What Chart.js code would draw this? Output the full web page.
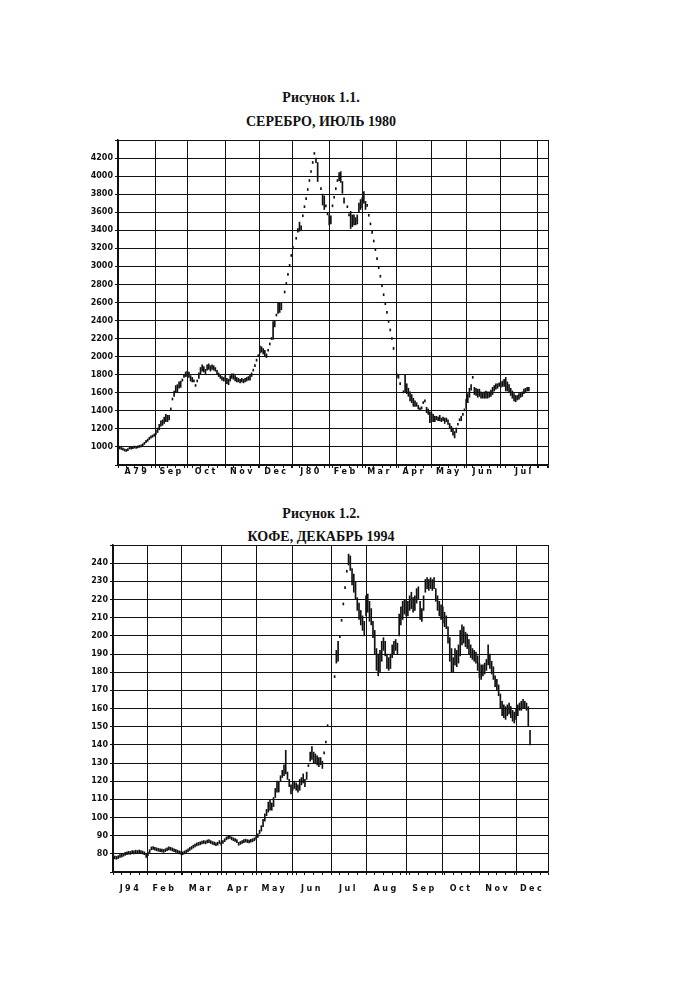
<!DOCTYPE html>
<html>
<head>
<meta charset="utf-8">
<title>Рисунок 1.1 / 1.2</title>
<script src="https://cdn.jsdelivr.net/npm/chart.js"></script>
<style>
  body { margin: 0; background: #fff; width: 694px; height: 1000px; position: relative; overflow: hidden; }
  .cap { position: absolute; left: 0; width: 642px; text-align: center; font-family: "Liberation Serif", serif; font-weight: bold; font-size: 14px; line-height: 16px; color: #111; }
  .box { position: absolute; left: 0; width: 560px; height: 360px; }
</style>
</head>
<body>
<div class="cap" style="top:90px">Рисунок 1.1.</div>
<div class="cap" style="top:114px">СЕРЕБРО, ИЮЛЬ 1980</div>
<div class="box" style="top:130px"><canvas id="silverChart"></canvas></div>

<div class="cap" style="top:506px">Рисунок 1.2.</div>
<div class="cap" style="top:529px">КОФЕ, ДЕКАБРЬ 1994</div>
<div class="box" style="top:535px"><canvas id="coffeeChart"></canvas></div>

<script>
// ---- silver, July 1980 contract: one bar per trading day (low / high) ----
const silverMonths = ["A79", "Sep", "Oct", "Nov", "Dec", "J80", "Feb", "Mar", "Apr", "May", "Jun", "Jul"];
// first trading day of each month, the last one is 1 Aug 1980
const silverMonthStarts = [0, 23, 42, 65, 86, 106, 128, 148, 169, 190, 211, 232, 254];
const silverLow = [
  980, 978, 972, 965, 955, 950, 960, 978, 975, 980, 988, 985, 990, 995, 1000, 1012, 1028, 1048, 1062, 1082, 1098, 1108, 1118,
  1140, 1160, 1190, 1230, 1240, 1260, 1280, 1280, 1300, 1410, 1520, 1560, 1600, 1610, 1650, 1660, 1730, 1770, 1780,
  1780, 1770, 1730, 1720, 1720, 1670, 1720, 1760, 1800, 1840, 1830, 1800, 1850, 1860, 1840, 1860, 1850, 1840, 1810, 1780, 1760, 1740, 1730,
  1730, 1700, 1690, 1730, 1760, 1750, 1730, 1720, 1720, 1710, 1720, 1710, 1720, 1730, 1740, 1740, 1780, 1840, 1890, 1950, 2000,
  2040, 2050, 2030, 2010, 1990, 2060, 2130, 2190, 2190, 2330, 2450, 2480, 2490, 2520, null, 2705, 2800, 2900, 3000, 3110,
  3200, null, 3300, 3380, 3390, 3400, 3550, 3650, 3740, 3840, 3940, 4040, 4140, 4240, 4150, 3940, null, 3850, 3680, 3630, 3660, 3570,
  3460, 3470, 3660, 3755, 3850, 3940, 3950, 3930, 3810, 3700, null, 3650, 3560, 3420, 3440, 3460, 3460, 3470, 3600, 3630,
  3650, 3700, 3630, 3665, 3555, 3460, 3365, 3270, 3175, 3075, 2975, 2880, 2775, 2675, 2575, 2480, 2380, 2285, 2190, 2080, null,
  1770, 1760, 1690, null, 1600, 1600, 1590, 1560, 1510, 1490, 1450, 1450, 1450, 1420, 1410, 1420, 1480, 1500, 1380, 1360, 1270,
  1280, 1280, 1280, 1300, 1290, 1290, 1280, 1290, 1260, 1280, 1250, 1210, 1170, 1130, 1100, 1160, 1240, 1290, 1290, 1350, 1400,
  1430, 1490, 1550, 1630, 1760, 1580, 1570, 1550, 1560, 1540, 1540, 1540, 1540, 1540, 1550, 1560, 1580, 1620, 1640, 1650, 1670,
  1660, 1670, 1670, 1620, 1620, 1600, 1570, 1540, 1510, 1500, 1520, 1530, 1550, 1560, 1590, 1610, 1620, 1620
];
const silverHigh = [
  1010, 1000, 995, 985, 975, 970, 982, 1000, 995, 1000, 1010, 1005, 1010, 1015, 1020, 1035, 1052, 1072, 1088, 1108, 1122, 1132, 1145,
  1180, 1210, 1250, 1290, 1300, 1330, 1360, 1350, 1350, 1410, 1520, 1620, 1680, 1690, 1720, 1730, 1730, 1770, 1830,
  1840, 1830, 1790, 1770, 1720, 1670, 1720, 1820, 1880, 1910, 1890, 1860, 1910, 1920, 1900, 1910, 1900, 1880, 1850, 1820, 1800, 1780, 1770,
  1790, 1760, 1750, 1790, 1810, 1810, 1790, 1770, 1760, 1750, 1760, 1750, 1760, 1770, 1780, 1800, 1820, 1840, 1890, 1950, 2000,
  2120, 2110, 2090, 2070, 2030, 2060, 2130, 2190, 2390, 2400, 2450, 2590, 2600, 2600, null, 2705, 2800, 2900, 3000, 3110,
  3200, null, 3300, 3420, 3490, 3450, 3550, 3650, 3740, 3840, 3940, 4040, 4140, 4240, 4200, 4150, null, 3850, 3800, 3780, 3660, 3570,
  3570, 3560, 3660, 3755, 3850, 3940, 4040, 4050, 3940, 3760, null, 3650, 3560, 3610, 3570, 3570, 3540, 3570, 3700, 3740,
  3760, 3830, 3720, 3665, 3555, 3460, 3365, 3270, 3175, 3075, 2975, 2880, 2775, 2675, 2575, 2480, 2380, 2285, 2190, 2080, null,
  1810, 1800, 1690, null, 1600, 1800, 1700, 1650, 1610, 1580, 1540, 1510, 1490, 1460, 1410, 1445, 1480, 1500, 1440, 1420, 1390,
  1380, 1360, 1340, 1340, 1330, 1350, 1320, 1330, 1320, 1320, 1300, 1260, 1230, 1210, 1170, 1210, 1240, 1290, 1340, 1350, 1400,
  1530, 1590, 1650, 1690, 1760, 1660, 1650, 1640, 1640, 1610, 1600, 1610, 1620, 1610, 1610, 1630, 1660, 1680, 1700, 1700, 1710,
  1720, 1730, 1750, 1770, 1720, 1690, 1650, 1620, 1590, 1570, 1570, 1590, 1600, 1610, 1640, 1650, 1660, 1660
];

// ---- coffee, December 1994 contract ----
const coffeeMonths = ["J94", "Feb", "Mar", "Apr", "May", "Jun", "Jul", "Aug", "Sep", "Oct", "Nov", "Dec"];
const coffeeMonthStarts = [0, 20, 39, 62, 82, 103, 125, 145, 168, 189, 210, 231];
const coffeeLow = [
  77.7, 77.2, 77, 77.4, 78, 78.2, 78.7, 79.2, 79.5, 79.8, 79.7, 80.2, 80, 80.4, 80.2, 80.5, 80.2, 79.9, 79.5, 78,
  79, 80.7, 82.2, 82.4, 82, 81.7, 81.4, 81.2, 81, 80.8, 81.2, 81.7, 82.2, 82, 81.6, 81.2, 80.8, 80.4, 80,
  79.7, 79.5, 80, 80.5, 81.2, 81.9, 82.5, 83.2, 83.8, 84.4, 84.7, 85, 85.4, 85.7, 85.5, 86, 86.2, 85.7, 85.2, 84.9, 84.5, 84.8, 85.7,
  84.7, 85.7, 86.7, 87.7, 88.2, 88.5, 87.7, 87.2, 86.8, 86.2, 84.7, 85.2, 85.7, 86.2, 86.5, 86.2, 86, 86.4, 86.7, 87.2,
  88, 89, 91, 92.5, 95, 98, 101, 103, 104, 104, 106, 111, 114, 114, 120, 122, 123, 124, 121, 117, 113,
  115, 116, 115, 114, 115, 118, 119, 117, 121, 128, 131, 132, 130, 130, 129, 128, 129, 127, 135, 141, 150, null,
  null, null, 177, 185, 186, 199, 208, 217, 226, 235, 239, 236, 228, 224, 220, 214, 209, 206, 203, 200,
  211, 213, 208, 206, 199, 190, 181, 178, 180, 186, 192, 189, 182, 181, 182, 188, 190, 192, 190, 200, 206, 209, 212,
  211, 211, 214, 215, 213, 214, 218, 220, 209, 208, 214, 224, 226, 225, 226, 225, 226, 219, 214, 211, 209,
  207, 205, 204, 196, 186, 180, 180, 184, 183, 185, 189, 195, 196, 194, 193, 190, 188, 187, 186, 185, 181,
  177, 176, 178, 179, 181, 184, 182, 179, 176, 172, 170, 167, 160, 156, 155, 154, 156, 157, 155, 153, 152,
  154, 156, 159, 159, 160, 160, 159, 150, 140
];
const coffeeHigh = [
  79.3, 78.8, 78.6, 79, 79.6, 79.8, 80.3, 80.8, 81.1, 81.4, 81.3, 81.8, 81.6, 82, 81.8, 82.1, 81.8, 81.5, 81.1, 80,
  81, 82.3, 83.8, 84, 83.6, 83.3, 83, 82.8, 82.6, 82.4, 82.8, 83.3, 83.8, 83.6, 83.2, 82.8, 82.4, 82, 81.6,
  81.3, 81.1, 81.6, 82.1, 82.8, 83.5, 84.1, 84.8, 85.4, 86, 86.3, 86.6, 87, 87.3, 87.1, 87.6, 87.8, 87.3, 86.8, 86.5, 86.1, 86.4, 87.3,
  86.3, 87.3, 88.3, 89.3, 89.8, 90.1, 89.3, 88.8, 88.4, 87.8, 86.3, 86.8, 87.3, 87.8, 88.1, 87.8, 87.6, 88, 88.3, 88.8,
  89.5, 91, 93, 95.5, 99, 102, 104.5, 108.5, 110, 108, 111, 116, 120, 119.5, 123, 126, 129, 137, 125, 121, 118,
  119.5, 120, 119, 118, 121, 122, 124, 121, 125, 128, 136, 139, 136, 135, 134, 133, 133, 131, 135, 141, 150, null,
  null, null, 177, 192, 197, 199, 208, 217, 226, 235, 245, 244, 237, 234, 230, 221, 218, 214, 211, 208,
  222, 223, 219, 215, 208, 203, 193, 190, 192, 197, 199, 197, 190, 188, 190, 195, 197, 198, 196, 212, 216, 219, 220,
  220, 219, 222, 224, 221, 222, 226, 227, 219, 215, 222, 231, 232, 231, 232, 231, 232, 226, 222, 219, 217,
  216, 213, 211, 205, 199, 193, 188, 193, 192, 195, 203, 206, 205, 202, 201, 198, 195, 193, 192, 191, 189,
  185, 184, 184, 185, 187, 195, 190, 186, 183, 178, 176, 173, 168, 164, 162, 161, 162, 163, 161, 159, 158,
  160, 162, 163, 164, 165, 164, 163, 161, 148
];

const ink = "#111";
const tickFont = { family: "DejaVu Sans", weight: "bold", size: 8 };

// month names on the chart are printed letter-spaced
const spacedMonths = {
  id: "spacedMonths",
  beforeDraw(chart) {
    const sc = chart.scales.xl;
    if (!sc || sc._spaced) return;
    const orig = sc.drawLabels;
    sc.drawLabels = function (area) {
      this.ctx.save();
      this.ctx.letterSpacing = "2.5px";
      orig.call(this, area);
      this.ctx.restore();
    };
    sc._spaced = true;
  },
};

function drawDailyBars(id, lows, highs, cfg) {
  const data = [];
  lows.forEach((lo, i) => {
    if (lo !== null) data.push({ x: i, y: [lo, highs[i]] });
  });

  const lines = cfg.starts; // vertical grid lines
  const bounds = lines.slice(0, cfg.labels.length).concat([cfg.xMax]);
  const mids = cfg.labels.map((_, i) => (bounds[i] + bounds[i + 1]) / 2);
  const gridTicks = [];
  for (let d = 0; d < cfg.xMax; d += 5) if (!lines.includes(d)) gridTicks.push(d);
  lines.forEach((s) => gridTicks.push(s));
  gridTicks.push(cfg.xMax);
  gridTicks.sort((a, b) => a - b);
  const isLine = (v) => lines.includes(v) || v === cfg.xMax;

  new Chart(document.getElementById(id), {
    type: "bar",
    data: {
      datasets: [
        {
          data: data,
          backgroundColor: ink,
          barThickness: 1,
          minBarLength: 2,
          grouped: false,
        },
      ],
    },
    options: {
      animation: false,
      responsive: true,
      maintainAspectRatio: false,
      layout: { padding: { top: 10, right: 12, left: 0, bottom: 0 } },
      plugins: { legend: { display: false }, tooltip: { enabled: false } },
      scales: {
        x: {
          type: "linear",
          min: 0,
          max: cfg.xMax,
          offset: false,
          afterBuildTicks: (s) => { s.ticks = gridTicks.map((v) => ({ value: v })); },
          afterFit: (s) => { s.height = 0; },
          ticks: { display: false },
          grid: {
            offset: false,
            color: (c) => (c.tick && isLine(c.tick.value) ? ink : "rgba(0,0,0,0)"),
            tickColor: ink,
            tickLength: 3,
            lineWidth: 1,
          },
          border: { color: ink, width: 1.5 },
        },
        xl: {
          type: "linear",
          position: "bottom",
          min: 0,
          max: cfg.xMax,
          offset: false,
          afterBuildTicks: (s) => { s.ticks = mids.map((v) => ({ value: v })); },
          afterFit: (s) => { s.height = cfg.axisH; },
          grid: { display: false, drawTicks: false },
          border: { display: false },
          ticks: {
            autoSkip: false,
            maxRotation: 0,
            padding: cfg.labelPad,
            color: ink,
            font: tickFont,
            callback: (v, i) => cfg.labels[i],
          },
        },
        y: {
          min: cfg.yMin,
          max: cfg.yMax,
          afterFit: (s) => { s.width = cfg.yW; },
          grid: { color: ink, tickColor: ink, tickLength: 3, lineWidth: 1 },
          border: { color: ink, width: 1.5 },
          ticks: {
            stepSize: cfg.yStep,
            padding: 2,
            color: ink,
            font: tickFont,
            callback: (v) => (v < cfg.yLabelMin || v > cfg.yLabelMax ? "" : String(v)),
          },
        },
      },
    },
    plugins: [spacedMonths],
  });
}

drawDailyBars("silverChart", silverLow, silverHigh, {
  starts: silverMonthStarts,
  labels: silverMonths,
  xMax: 260.6,
  yMin: 800, yMax: 4400, yStep: 200, yLabelMin: 1000, yLabelMax: 4200,
  yW: 118, axisH: 25, labelPad: 2,
});
drawDailyBars("coffeeChart", coffeeLow, coffeeHigh, {
  starts: coffeeMonthStarts,
  labels: coffeeMonths,
  xMax: 249.3,
  yMin: 70, yMax: 250, yStep: 10, yLabelMin: 80, yLabelMax: 240,
  yW: 113, axisH: 23, labelPad: 12,
});
</script>
</body>
</html>
